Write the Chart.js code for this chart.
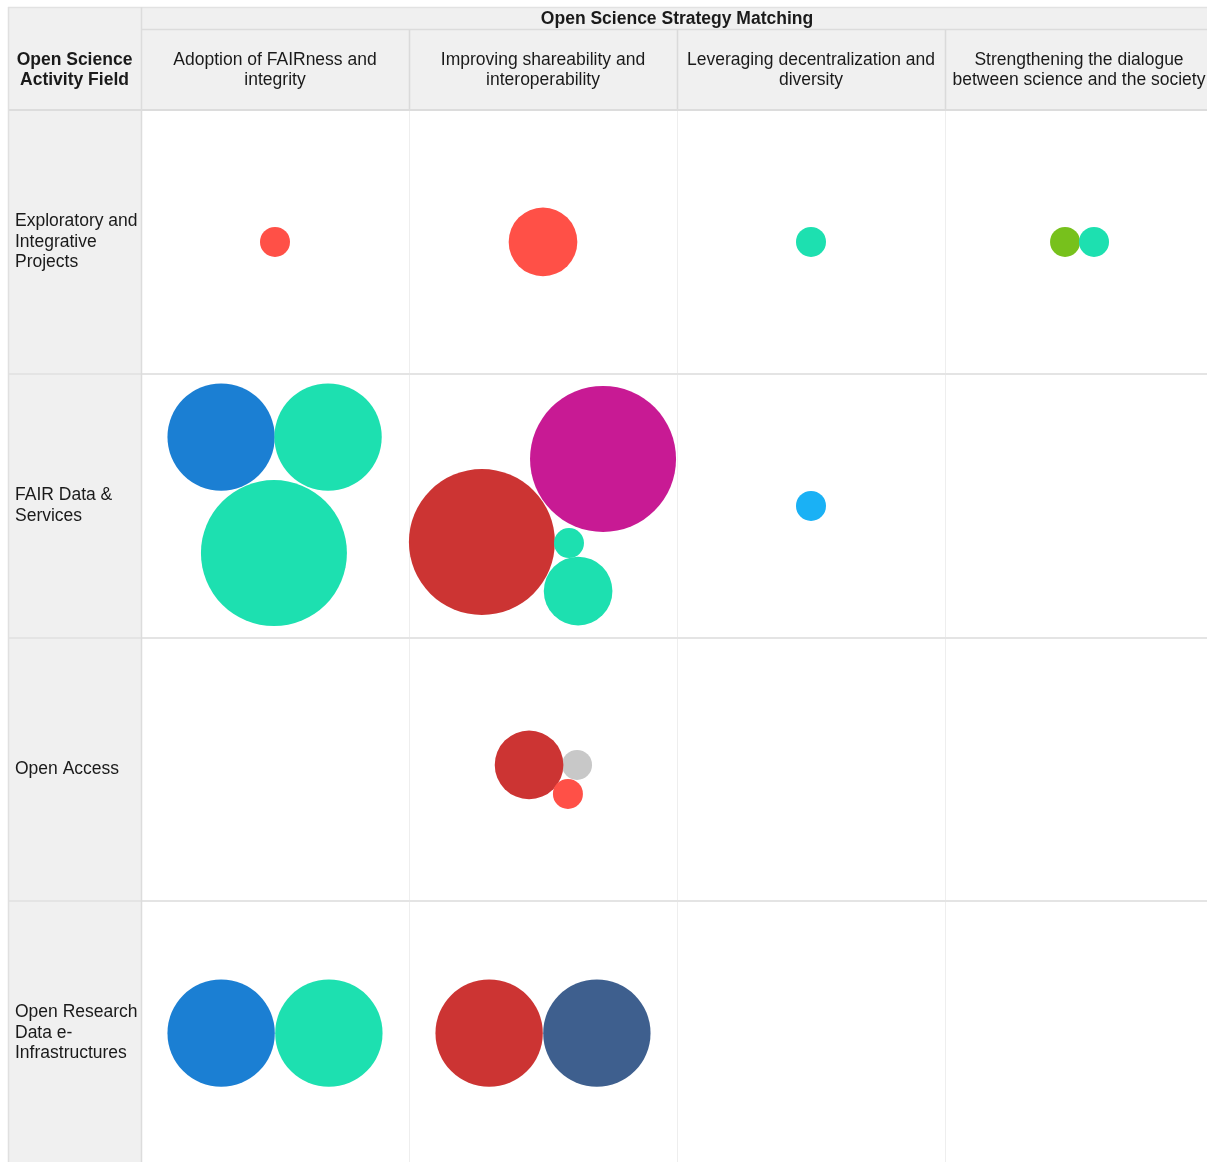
<!DOCTYPE html>
<html>
<head>
<meta charset="utf-8">
<script src="https://cdn.jsdelivr.net/npm/chart.js@4/dist/chart.umd.min.js"></script>
<style>
  html, body { margin: 0; padding: 0; background: #fff; overflow: hidden; width: 1207px; height: 1162px; }
  #clip { position: relative; width: 1207px; height: 1162px; overflow: hidden; }
  #wrap { position: absolute; left: 0; top: 0; width: 1214px; height: 1166px; }
</style>
</head>
<body>
<div id="clip"><div id="wrap"><canvas id="c"></canvas></div></div>
<script>
// ---------- data ----------
const title = "Open Science Strategy Matching";
const cornerLabel = ["Open Science", "Activity Field"];
const columns = [
  ["Adoption of FAIRness and", "integrity"],
  ["Improving shareability and", "interoperability"],
  ["Leveraging decentralization and", "diversity"],
  ["Strengthening the dialogue", "between science and the society"]
];
const rows = [
  ["Exploratory and", "Integrative", "Projects"],
  ["FAIR Data &", "Services"],
  ["Open Access"],
  ["Open Research", "Data e-", "Infrastructures"]
];
// bubbles per colour group: x = column position, y = row position, s = size (1-4)
const orangeRed = [
  {x: 0.500, y: 0.500, s: 1}, {x: 1.500, y: 0.500, s: 2}, {x: 1.593, y: 2.593, s: 1}
];
const teal = [
  {x: 2.500, y: 0.500, s: 1}, {x: 3.556, y: 0.500, s: 1},
  {x: 0.698, y: 1.240, s: 3}, {x: 0.496, y: 1.680, s: 4},
  {x: 1.597, y: 1.642, s: 1}, {x: 1.631, y: 1.824, s: 2},
  {x: 0.701, y: 3.500, s: 3}
];
const green = [ {x: 3.448, y: 0.500, s: 1} ];
const blue = [ {x: 0.299, y: 1.240, s: 3}, {x: 0.299, y: 3.500, s: 3} ];
const magenta = [ {x: 1.724, y: 1.323, s: 4} ];
const red = [ {x: 1.272, y: 1.638, s: 4}, {x: 1.448, y: 2.483, s: 2}, {x: 1.299, y: 3.500, s: 3} ];
const skyBlue = [ {x: 2.500, y: 1.501, s: 1} ];
const grey = [ {x: 1.627, y: 2.483, s: 1} ];
const navy = [ {x: 1.701, y: 3.500, s: 3} ];

// ---------- styling ----------
const FONT = "'Liberation Sans', Arial, Helvetica, sans-serif";
const TEXT = '#1a1a1a';
const HEADER_BG = '#f0f0f0';
const sizeToRadius = s => 15 + (73 - 15) / 3 * (s - 1);

const groups = [
  ['Orange red', orangeRed, '#ff5047'],
  ['Teal', teal, '#1de0b0'],
  ['Green', green, '#77c11c'],
  ['Blue', blue, '#1b7fd3'],
  ['Magenta', magenta, '#c81a94'],
  ['Red', red, '#cc3433'],
  ['Sky blue', skyBlue, '#1ab1f5'],
  ['Grey', grey, '#c8c8c8'],
  ['Navy', navy, '#3e5f8e']
];

const tablePlugin = {
  id: 'tableGrid',
  beforeDraw(chart) {
    const {ctx, chartArea: a, scales: {x, y}} = chart;
    const L = 8, T = 7, headSep = 29;
    ctx.save();
    ctx.fillStyle = '#fff';
    ctx.fillRect(0, 0, chart.width, chart.height);
    ctx.fillStyle = HEADER_BG;
    ctx.fillRect(L, T, a.left - L, a.bottom - T);
    ctx.fillRect(a.left, T, a.right - a.left, a.top - T);

    const hline = (x0, x1, yy, col, w) => {
      ctx.strokeStyle = col; ctx.lineWidth = w;
      ctx.beginPath(); ctx.moveTo(x0, yy); ctx.lineTo(x1, yy); ctx.stroke();
    };
    const vline = (xx, y0, y1, col, w) => {
      ctx.strokeStyle = col; ctx.lineWidth = w;
      ctx.beginPath(); ctx.moveTo(xx, y0); ctx.lineTo(xx, y1); ctx.stroke();
    };
    for (let i = 1; i < columns.length; i++) {
      const px = Math.round(x.getPixelForValue(i)) + 0.5;
      vline(px, a.top, a.bottom, '#eeeeee', 1);
      vline(px, headSep, a.top, '#dadada', 1.5);
    }
    for (let i = 1; i < rows.length; i++) {
      const py = Math.round(y.getPixelForValue(i));
      hline(L, a.right, py, '#e4e4e4', 2);
    }
    hline(L, a.right, T + 0.5, '#e2e2e2', 1.5);
    hline(a.left, a.right, headSep + 0.5, '#dcdcdc', 1.5);
    hline(L, a.right, a.top, '#dcdcdc', 2);
    vline(L + 0.5, T, a.bottom, '#e0e0e0', 1.5);
    vline(a.left + 0.5, T, a.bottom, '#dcdcdc', 1.5);

    ctx.fillStyle = TEXT;
    ctx.font = "bold 17.5px " + FONT;
    ctx.textAlign = 'center';
    ctx.textBaseline = 'middle';
    const cx = (L + a.left) / 2;
    cornerLabel.forEach((t, i) => ctx.fillText(t, cx, 60 + i * 20));
    ctx.restore();
  }
};

new Chart(document.getElementById('c'), {
  type: 'bubble',
  data: {
    datasets: groups.map(([label, data, color]) => ({
      label, data,
      backgroundColor: color,
      hoverBackgroundColor: color,
      borderWidth: 0,
      hoverBorderWidth: 0,
      radius: c => sizeToRadius(c.raw.s),
      hoverRadius: 0,
      clip: false
    }))
  },
  options: {
    responsive: true,
    maintainAspectRatio: false,
    animation: false,
    events: [],
    layout: { autoPadding: false, padding: { left: 15, top: 7, right: 1, bottom: 1 } },
    plugins: { legend: { display: false }, tooltip: { enabled: false } },
    scales: {
      x: {
        type: 'linear', position: 'top', min: 0, max: columns.length,
        grid: { display: false, drawTicks: false }, border: { display: false },
        afterBuildTicks: s => { s.ticks = columns.map((_, i) => ({ value: i + 0.5 })); },
        afterFit: s => { s.height = 103; s.paddingLeft = 0; s.paddingRight = 0; },
        ticks: {
          autoSkip: false, maxRotation: 0, minRotation: 0, padding: 19.5,
          color: TEXT, font: { family: FONT, size: 17.5, lineHeight: 1.17 },
          callback: (v, i) => columns[i]
        },
        title: {
          display: true, text: title, color: TEXT,
          font: { family: FONT, size: 17.5, weight: 'bold', lineHeight: 1.17 },
          padding: { top: 2, bottom: 0 }
        }
      },
      y: {
        type: 'linear', position: 'left', reverse: true, min: 0, max: rows.length,
        grid: { display: false, drawTicks: false }, border: { display: false },
        afterBuildTicks: s => { s.ticks = rows.map((_, i) => ({ value: i + 0.5 })); },
        afterFit: s => { s.width = 126; s.paddingTop = 0; s.paddingBottom = 0; },
        ticks: {
          autoSkip: false, crossAlign: 'far', padding: 0,
          color: TEXT, font: { family: FONT, size: 17.5, lineHeight: 1.17 },
          callback: (v, i) => rows[i]
        }
      }
    }
  },
  plugins: [tablePlugin]
});
</script>
</body>
</html>
